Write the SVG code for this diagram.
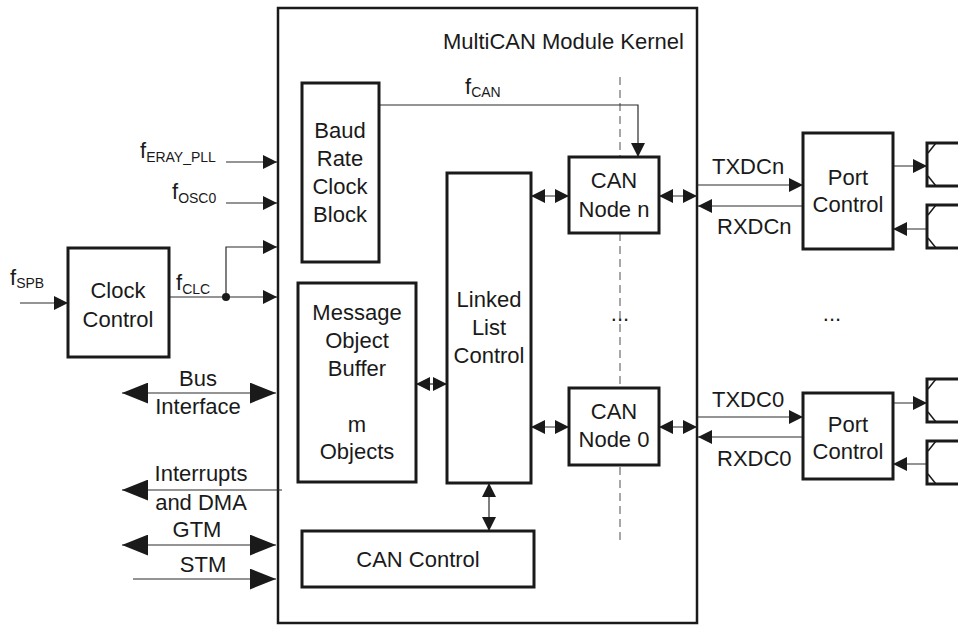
<svg xmlns="http://www.w3.org/2000/svg" width="958" height="627" viewBox="0 0 958 627">
<style>
.t{font-family:"Liberation Sans",Arial,sans-serif;font-size:22px;fill:#1a1a1a}
.m{text-anchor:middle}
.s{font-size:14px}
.box{fill:#fff;stroke:#1a1a1a;stroke-width:3}
.ln{fill:none;stroke:#2a2a2a;stroke-width:1.2}
.dash{fill:none;stroke:#8a8a8a;stroke-width:1.5;stroke-dasharray:8 5}
</style>
<defs>
<marker id="a" markerUnits="userSpaceOnUse" markerWidth="14" markerHeight="14" refX="13" refY="6.5" orient="auto-start-reverse" viewBox="0 0 13 13">
<path d="M0,0 L13,6.5 L0,13 z" fill="#1a1a1a"/>
</marker>
<marker id="b" markerUnits="userSpaceOnUse" markerWidth="26" markerHeight="21" refX="25" refY="10" orient="auto-start-reverse" viewBox="0 0 25 20">
<path d="M0,0 L25,10 L0,20 z" fill="#1a1a1a"/>
</marker>
</defs>
<rect width="958" height="627" fill="#fff"/>

<g id="kernel">
<rect x="278" y="8" width="419" height="615" fill="#fff" stroke="#1a1a1a" stroke-width="2.5"/>
<text class="t" x="443" y="49">MultiCAN Module Kernel</text>
</g>

<g id="connectors">
<line class="dash" x1="620" y1="77" x2="620" y2="540"/>
<!-- clock inputs -->
<line class="ln" x1="226" y1="162" x2="277" y2="162" marker-end="url(#a)"/>
<line class="ln" x1="226" y1="203" x2="277" y2="203" marker-end="url(#a)"/>
<line class="ln" x1="169" y1="297" x2="277" y2="297" marker-end="url(#a)"/>
<polyline class="ln" points="226,297 226,247 277,247" marker-end="url(#a)"/>
<circle cx="226" cy="297" r="4" fill="#1a1a1a"/>
<line class="ln" x1="20" y1="303" x2="68" y2="303" marker-end="url(#a)"/>
<!-- bus lines -->
<line class="ln" x1="122" y1="393" x2="276" y2="393" marker-start="url(#b)" marker-end="url(#b)"/>
<line class="ln" x1="122" y1="490" x2="282" y2="490" marker-start="url(#b)"/>
<line class="ln" x1="122" y1="545" x2="276" y2="545" marker-start="url(#b)" marker-end="url(#b)"/>
<line class="ln" x1="133" y1="579" x2="276" y2="579" marker-end="url(#b)"/>
<!-- fCAN -->
<polyline class="ln" points="379,105 638,105 638,157" marker-end="url(#a)"/>
<!-- internal -->
<line class="ln" x1="531" y1="196" x2="569" y2="196" marker-start="url(#a)" marker-end="url(#a)"/>
<line class="ln" x1="531" y1="427" x2="569" y2="427" marker-start="url(#a)" marker-end="url(#a)"/>
<line class="ln" x1="416" y1="384" x2="447" y2="384" marker-start="url(#a)" marker-end="url(#a)"/>
<line class="ln" x1="489" y1="483" x2="489" y2="531" marker-start="url(#a)" marker-end="url(#a)"/>
<line class="ln" x1="659" y1="196" x2="697" y2="196" marker-start="url(#a)" marker-end="url(#a)"/>
<line class="ln" x1="659" y1="427" x2="697" y2="427" marker-start="url(#a)" marker-end="url(#a)"/>
<!-- TX/RX -->
<line class="ln" x1="697" y1="185" x2="803" y2="185" marker-end="url(#a)"/>
<line class="ln" x1="803" y1="206" x2="698" y2="206" marker-end="url(#a)"/>
<line class="ln" x1="697" y1="417" x2="803" y2="417" marker-end="url(#a)"/>
<line class="ln" x1="803" y1="437" x2="698" y2="437" marker-end="url(#a)"/>
<!-- pins -->
<line class="ln" x1="893" y1="166" x2="927" y2="166" marker-end="url(#a)"/>
<line class="ln" x1="927" y1="229" x2="893" y2="229" marker-end="url(#a)"/>
<line class="ln" x1="893" y1="403" x2="927" y2="403" marker-end="url(#a)"/>
<line class="ln" x1="927" y1="464" x2="893" y2="464" marker-end="url(#a)"/>
</g>

<g id="labels">
<text class="t" x="140" y="158">f<tspan class="s" dy="4">ERAY_PLL</tspan></text>
<text class="t" x="172" y="199">f<tspan class="s" dy="4">OSC0</tspan></text>
<text class="t" x="176" y="290">f<tspan class="s" dy="4">CLC</tspan></text>
<text class="t" x="10" y="285">f<tspan class="s" dy="3">SPB</tspan></text>
<text class="t" x="465" y="94">f<tspan class="s" dy="3">CAN</tspan></text>
<text class="t m" x="198" y="386">Bus</text>
<text class="t m" x="198" y="414">Interface</text>
<text class="t m" x="201" y="481">Interrupts</text>
<text class="t m" x="201" y="510">and DMA</text>
<text class="t m" x="197" y="537">GTM</text>
<text class="t m" x="203" y="572">STM</text>
<text class="t" x="712" y="174">TXDCn</text>
<text class="t" x="717" y="234">RXDCn</text>
<text class="t" x="712" y="407">TXDC0</text>
<text class="t" x="717" y="466">RXDC0</text>
<text class="t m" x="620" y="321">...</text>
<text class="t m" x="832" y="321">...</text>
</g>

<g id="clock-control">
<rect class="box" x="68" y="248" width="101" height="109"/>
<text class="t m" x="118" y="298">Clock</text>
<text class="t m" x="118" y="327">Control</text>
</g>

<g id="baud-rate-clock-block">
<rect class="box" x="302" y="83" width="77" height="179"/>
<text class="t m" x="340" y="138">Baud</text>
<text class="t m" x="340" y="166">Rate</text>
<text class="t m" x="340" y="194">Clock</text>
<text class="t m" x="340" y="222">Block</text>
</g>

<g id="message-object-buffer">
<rect class="box" x="298" y="283" width="118" height="199"/>
<text class="t m" x="357" y="320">Message</text>
<text class="t m" x="357" y="348">Object</text>
<text class="t m" x="357" y="376">Buffer</text>
<text class="t m" x="357" y="432">m</text>
<text class="t m" x="357" y="459">Objects</text>
</g>

<g id="linked-list-control">
<rect class="box" x="447" y="173" width="84" height="310"/>
<text class="t m" x="489" y="307">Linked</text>
<text class="t m" x="489" y="335">List</text>
<text class="t m" x="489" y="363">Control</text>
</g>

<g id="can-control">
<rect class="box" x="302" y="531" width="232" height="56"/>
<text class="t m" x="418" y="567">CAN Control</text>
</g>

<g id="can-node-n">
<rect class="box" x="569" y="157" width="90" height="76"/>
<text class="t m" x="614" y="188">CAN</text>
<text class="t m" x="614" y="217">Node n</text>
</g>

<g id="can-node-0">
<rect class="box" x="569" y="388" width="90" height="77"/>
<text class="t m" x="614" y="419">CAN</text>
<text class="t m" x="614" y="447">Node 0</text>
</g>

<g id="port-control-n">
<rect class="box" x="803" y="133" width="90" height="116"/>
<text class="t m" x="848" y="185">Port</text>
<text class="t m" x="848" y="212">Control</text>
</g>

<g id="port-control-0">
<rect class="box" x="803" y="393" width="90" height="86"/>
<text class="t m" x="848" y="432">Port</text>
<text class="t m" x="848" y="459">Control</text>
</g>

<g id="pin-txn">
<rect class="box" x="927" y="143" width="40" height="43"/>
<path d="M928,153 L936,143 M928,176 L936,186" stroke="#1a1a1a" stroke-width="1.5" fill="none"/>
</g>
<g id="pin-rxn">
<rect class="box" x="927" y="205" width="40" height="43"/>
<path d="M928,215 L936,205 M928,238 L936,248" stroke="#1a1a1a" stroke-width="1.5" fill="none"/>
</g>
<g id="pin-tx0">
<rect class="box" x="927" y="379" width="40" height="43"/>
<path d="M928,389 L936,379 M928,412 L936,422" stroke="#1a1a1a" stroke-width="1.5" fill="none"/>
</g>
<g id="pin-rx0">
<rect class="box" x="927" y="441" width="40" height="43"/>
<path d="M928,451 L936,441 M928,474 L936,484" stroke="#1a1a1a" stroke-width="1.5" fill="none"/>
</g>
</svg>
